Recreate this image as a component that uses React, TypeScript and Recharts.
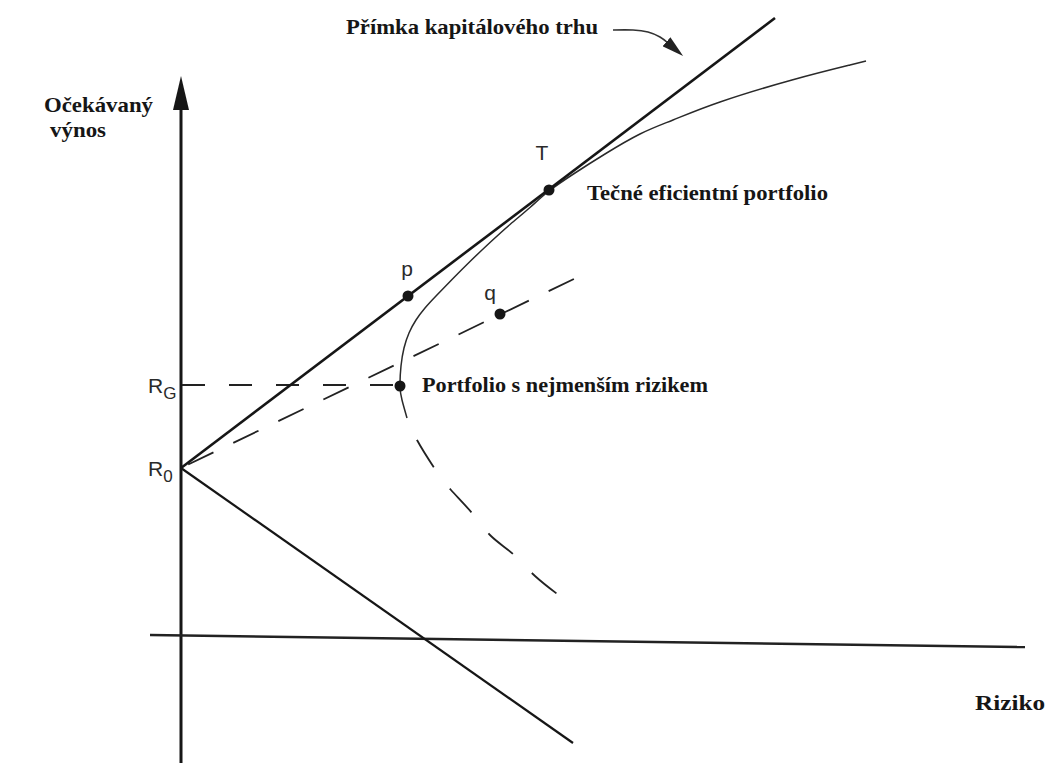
import React from 'react';
import { ComposedChart, Line, Scatter, XAxis, YAxis } from 'recharts';

// Units: risk to the right of the return axis, expected return above the risk axis
const riskDomain = [-18.1, 86.7];
const returnDomain = [-12.7, 63.6];

const returnAxis = [{ x: 0, y: -12.7 }, { x: 0, y: 52.6 }];
const riskAxis = [{ x: -3.1, y: 0.1 }, { x: 84.4, y: -1.1 }];

const capitalMarketLine = [{ x: 0, y: 16.8 }, { x: 59.4, y: 61.8 }];
const lowerLine = [{ x: 0, y: 16.8 }, { x: 39.2, y: -10.7 }];
const lineThroughQ = [{ x: 0, y: 16.8 }, { x: 39.9, y: 36.0 }];
const minRiskLevel = [{ x: 0.1, y: 25.1 }, { x: 21.9, y: 25.1 }];

// efficient frontier, solid part (from just below G up to the right end)
const frontierUpper = [
  { x: 22.6, y: 21.8 },
  { x: 22.1, y: 23.6 },
  { x: 21.9, y: 25.0 },
  { x: 22.0, y: 27.0 },
  { x: 22.3, y: 28.8 },
  { x: 22.8, y: 30.3 },
  { x: 23.5, y: 31.6 },
  { x: 24.4, y: 32.8 },
  { x: 25.5, y: 34.0 },
  { x: 27.1, y: 35.65 },
  { x: 28.9, y: 37.45 },
  { x: 30.9, y: 39.35 },
  { x: 32.9, y: 41.15 },
  { x: 34.9, y: 42.85 },
  { x: 36.8, y: 44.5 },
  { x: 39.4, y: 46.3 },
  { x: 42.4, y: 48.2 },
  { x: 45.9, y: 50.2 },
  { x: 49.2, y: 51.6 },
  { x: 53.9, y: 53.4 },
  { x: 61.1, y: 55.6 },
  { x: 66.9, y: 57.1 },
  { x: 68.5, y: 57.5 },
];

// inefficient (dashed) part below G
const frontierLower = [
  { x: 22.6, y: 21.8 },
  { x: 23.6, y: 19.6 },
  { x: 25.4, y: 16.7 },
  { x: 27.0, y: 14.6 },
  { x: 29.1, y: 12.3 },
  { x: 31.0, y: 10.0 },
  { x: 33.2, y: 8.2 },
  { x: 35.4, y: 6.0 },
  { x: 38.7, y: 3.4 },
];

const calloutArrow = [
  { x: 43.2, y: 60.6 },
  { x: 45.2, y: 60.6 },
  { x: 46.7, y: 60.4 },
  { x: 47.9, y: 59.9 },
  { x: 48.7, y: 59.3 },
];

const portfolios = [
  { name: 'p', x: 22.7, y: 34.0 },
  { name: 'q', x: 31.9, y: 32.2 },
  { name: 'T', x: 36.8, y: 44.6 },
  { name: 'G', x: 21.9, y: 25.0 },
];

const captions = [
  { text: 'Očekávaný', x: -13.7, y: 52.4, width: 109 },
  { text: 'výnos', x: -13.1, y: 49.9, width: 56 },
  { text: 'Přímka kapitálového trhu', x: 16.5, y: 60.2, width: 252 },
  { text: 'Tečné eficientní portfolio', x: 40.6, y: 43.6, width: 241 },
  { text: 'Portfolio s nejmenším rizikem', x: 24.1, y: 24.4, width: 286 },
  { text: 'Riziko', x: 79.4, y: -7.4, width: 70 },
];

const symbols = [
  { text: 'T', sub: '', x: 36.1, y: 47.6 },
  { text: 'p', sub: '', x: 22.6, y: 36.0 },
  { text: 'q', sub: '', x: 30.9, y: 33.6 },
  { text: 'R', sub: 'G', x: -3.3, y: 24.3 },
  { text: 'R', sub: '0', x: -3.3, y: 16.0 },
];

const ink = '#161616';

const CaptionShape = (props: any) => (
  <text
    x={props.cx}
    y={props.cy}
    fontFamily="'Liberation Serif', 'Times New Roman', serif"
    fontWeight="bold"
    fontSize={22}
    fill={ink}
    textLength={props.payload.width}
    lengthAdjust="spacingAndGlyphs"
  >
    {props.payload.text}
  </text>
);

const SymbolShape = (props: any) => {
  const { text, sub } = props.payload;
  return (
    <text
      x={props.cx}
      y={props.cy}
      fontFamily="'Liberation Sans', Arial, sans-serif"
      fontSize={21}
      fill="#2a2a2a"
      textAnchor={sub ? 'start' : 'middle'}
    >
      {text}
      {sub && (
        <tspan dy={6} fontSize={17}>
          {sub}
        </tspan>
      )}
    </text>
  );
};

const DotShape = (props: any) => <circle cx={props.cx} cy={props.cy} r={5.5} fill={ink} />;

const App: React.FC = () => {
  return (
    <div style={{ width: 1048, height: 763, background: '#fff' }}>
      <style>{'body { margin: 0; }'}</style>
      <ComposedChart width={1048} height={763} margin={{ top: 0, right: 0, bottom: 0, left: 0 }}>
        <defs>
          <marker
            id="axisHead"
            viewBox="0 0 34 16"
            refX={0}
            refY={8}
            markerWidth={34}
            markerHeight={16}
            markerUnits="userSpaceOnUse"
            orient="auto"
          >
            <path d="M0,0 L34,8 L0,16 Z" fill={ink} />
          </marker>
          <marker
            id="calloutHead"
            viewBox="0 0 22 12"
            refX={2}
            refY={6}
            markerWidth={22}
            markerHeight={12}
            markerUnits="userSpaceOnUse"
            orient="auto"
          >
            <path d="M0,0 L22,6 L0,12 Z" fill="#222" />
          </marker>
        </defs>
        <XAxis type="number" dataKey="x" domain={riskDomain} allowDataOverflow hide />
        <YAxis type="number" dataKey="y" domain={returnDomain} allowDataOverflow hide />

        <Line data={returnAxis} dataKey="y" type="linear" stroke={ink} strokeWidth={3} dot={false}
          markerEnd="url(#axisHead)" isAnimationActive={false} />
        <Line data={riskAxis} dataKey="y" type="linear" stroke="#222" strokeWidth={2.5} dot={false}
          isAnimationActive={false} />

        <Line data={minRiskLevel} dataKey="y" type="linear" stroke="#222" strokeWidth={1.8}
          strokeDasharray="23 24" dot={false} isAnimationActive={false} />
        <Line data={lineThroughQ} dataKey="y" type="linear" stroke="#222" strokeWidth={1.8}
          strokeDasharray="28 22" strokeDashoffset={-8} dot={false} isAnimationActive={false} />
        <Line data={frontierLower} dataKey="y" type="natural" stroke="#222" strokeWidth={1.8}
          strokeDasharray="32 27" strokeDashoffset={35} dot={false} isAnimationActive={false} />

        <Line data={frontierUpper} dataKey="y" type="natural" stroke="#2a2a2a" strokeWidth={1.5}
          dot={false} isAnimationActive={false} />
        <Line data={capitalMarketLine} dataKey="y" type="linear" stroke={ink} strokeWidth={2.6}
          dot={false} isAnimationActive={false} />
        <Line data={lowerLine} dataKey="y" type="linear" stroke={ink} strokeWidth={2.2}
          dot={false} isAnimationActive={false} />

        <Line data={calloutArrow} dataKey="y" type="natural" stroke="#333" strokeWidth={1.6}
          dot={false} markerEnd="url(#calloutHead)" isAnimationActive={false} />

        <Scatter data={portfolios} dataKey="y" shape={DotShape} isAnimationActive={false} />
        <Scatter data={captions} dataKey="y" shape={CaptionShape} isAnimationActive={false} />
        <Scatter data={symbols} dataKey="y" shape={SymbolShape} isAnimationActive={false} />
      </ComposedChart>
    </div>
  );
};

export default App;
